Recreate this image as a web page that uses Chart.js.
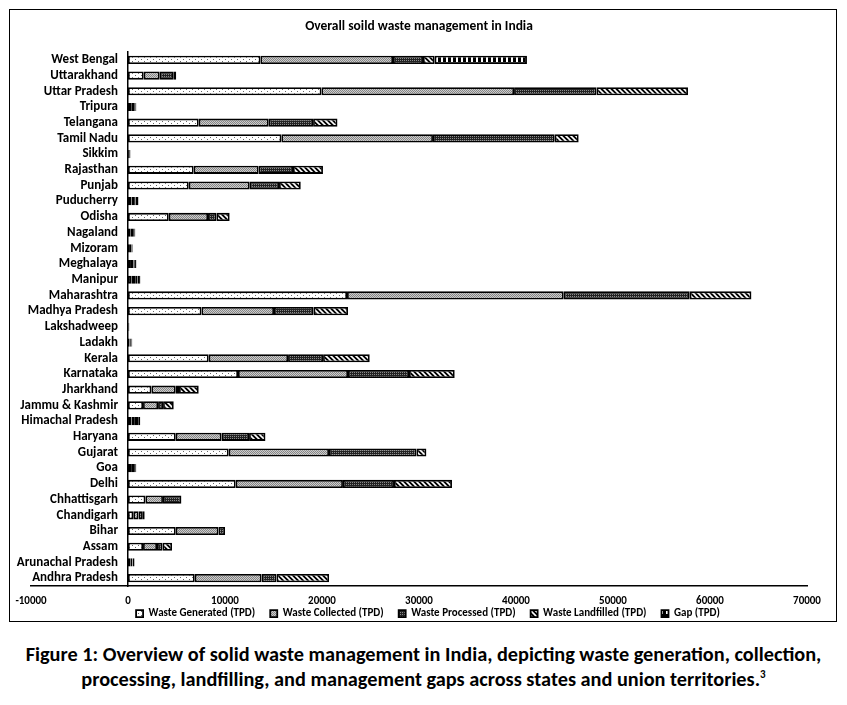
<!DOCTYPE html>
<html>
<head>
<meta charset="utf-8">
<script src="https://cdn.jsdelivr.net/npm/chart.js@4.4.1/dist/chart.umd.min.js"></script>
<style>
  html, body { margin: 0; padding: 0; background: #fff; }
  body { width: 847px; height: 705px; position: relative; overflow: hidden; font-family: Carlito, Lato, sans-serif; }
  #frame { position: absolute; left: 9px; top: 9px; width: 826px; height: 611px; border: 1.5px solid #000; }
  #wrap { position: absolute; left: 0; top: 0; width: 847px; height: 658px; }
  #caption { position: absolute; left: 0; top: 642px; width: 847px; text-align: center; font-weight: bold; font-size: 20.3px; line-height: 25px; color: #000; }
  #caption sup { font-size: 11px; line-height: 0; vertical-align: 8px; }
</style>
</head>
<body>
<div id="frame"></div>
<div id="caption">Figure 1: Overview of solid waste management in India, depicting waste generation, collection,<br>processing, landfilling, and management gaps across states and union territories.<sup>3</sup></div>
<div id="wrap"><canvas id="c" width="847" height="658"></canvas></div>
<script>
const chartTitle = 'Overall soild waste management in India';
const seriesNames = ['Waste Generated (TPD)', 'Waste Collected (TPD)', 'Waste Processed (TPD)', 'Waste Landfilled (TPD)', 'Gap (TPD)'];
const categories = ['Andhra Pradesh','Arunachal Pradesh','Assam','Bihar','Chandigarh','Chhattisgarh','Delhi','Goa','Gujarat','Haryana','Himachal Pradesh','Jammu & Kashmir','Jharkhand','Karnataka','Kerala','Ladakh','Lakshadweep','Madhya Pradesh','Maharashtra','Manipur','Meghalaya','Mizoram','Nagaland','Odisha','Puducherry','Punjab','Rajasthan','Sikkim','Tamil Nadu','Telangana','Tripura','Uttar Pradesh','Uttarakhand','West Bengal'];
const generated  = [6880,240,1550,4920,540,1790,11100,320,10380,4920,360,1550,2410,11340,8320,150,50,7570,22580,380,300,200,280,4200,360,6260,6770,90,15810,7290,330,19940,1620,13650];
const collected  = [6880,220,1440,4400,540,1815,11060,310,10340,4710,350,1550,2510,11340,8180,140,45,7480,22340,360,260,170,250,4050,350,6290,6700,90,15630,7220,310,19860,1650,13670];
const processed  = [1550,40,560,690,450,1900,5260,170,9010,2850,340,515,340,6290,3610,80,40,4090,12990,250,140,60,120,860,60,3020,3540,60,12550,4570,150,8490,1450,3090];
const landfilled = [5420,170,990,0,190,0,5980,50,1030,1690,200,1100,2030,4710,4810,60,0,3540,6360,240,120,60,80,1370,300,2240,3090,30,2470,2515,50,9440,250,1210];
const gap        = [0,20,0,0,0,0,0,15,0,0,25,0,0,0,0,20,5,0,0,45,45,25,30,0,30,0,0,10,0,0,30,0,0,9510];
const xMin = -10000, xMax = 70000, xStep = 10000;

function makePattern(w, h, draw) {
  const c = document.createElement('canvas');
  c.width = w; c.height = h;
  const g = c.getContext('2d');
  draw(g, w, h);
  return g.createPattern(c, 'repeat');
}
const patGenerated = makePattern(6, 4, (g, w, h) => {
  g.fillStyle = '#fff'; g.fillRect(0, 0, w, h);
  g.fillStyle = '#666'; g.fillRect(0, 1, 1, 1); g.fillRect(3, 3, 1, 1);
});
const patCollected = makePattern(2, 2, (g, w, h) => {
  g.fillStyle = '#cccccc'; g.fillRect(0, 0, w, h);
  g.fillStyle = '#858585'; g.fillRect(0, 0, 1, 1); g.fillRect(1, 1, 1, 1);
});
const patProcessed = makePattern(2, 2, (g, w, h) => {
  g.fillStyle = '#222'; g.fillRect(0, 0, w, h);
  g.fillStyle = '#8a8a8a'; g.fillRect(0, 0, 1, 1);
});
const patLandfilled = makePattern(5, 5, (g, w, h) => {
  g.fillStyle = '#000'; g.fillRect(0, 0, w, h);
  g.strokeStyle = '#fff'; g.lineWidth = 1.6;
  for (let k = -1; k <= 1; k++) {
    g.beginPath(); g.moveTo(k * 5 - 1, -1); g.lineTo(k * 5 + 6, 6); g.stroke();
  }
});
const patGap = makePattern(5, 8, (g, w, h) => {
  g.fillStyle = '#000'; g.fillRect(0, 0, w, h);
  g.fillStyle = '#fff'; g.fillRect(1, 1, 2, 5);
});

const series = [generated, collected, processed, landfilled, gap];
const fills = [patGenerated, patCollected, patProcessed, patLandfilled, patGap];
const FAMILY = 'Carlito, Lato, sans-serif';
const boldFont = (size) => ({ family: FAMILY, size: size, weight: 'bold' });

// category labels drawn beside the y axis line (which sits at x = 0)
const categoryLabels = {
  id: 'categoryLabels',
  afterDraw(chart) {
    const ys = chart.scales.y, xs = chart.scales.x, ctx = chart.ctx;
    ctx.save();
    ctx.font = 'bold 13px ' + FAMILY;
    ctx.fillStyle = '#000';
    ctx.textAlign = 'right';
    ctx.textBaseline = 'middle';
    const x0 = xs.getPixelForValue(0) - 10;
    ys.ticks.forEach((t, i) => {
      ctx.fillText(chart.data.labels[t.value], x0, ys.getPixelForTick(i));
    });
    ctx.restore();
  }
};
// nudge legend up so that it tucks under the tick labels, and centre it
const legendShift = {
  id: 'legendShift',
  afterLayout(chart) {
    const lg = chart.legend;
    if (!lg) return;
    lg.top -= 24; lg.bottom -= 24;
    lg.left += 9; lg.right += 9;
  }
};

new Chart(document.getElementById('c'), {
  type: 'bar',
  data: {
    labels: categories,
    datasets: series.map((d, i) => ({
      label: seriesNames[i],
      data: d,
      backgroundColor: fills[i],
      borderColor: '#000',
      borderWidth: 1.8,
      borderSkipped: false,
      categoryPercentage: 1,
      barPercentage: 0.52
    }))
  },
  plugins: [categoryLabels, legendShift],
  options: {
    indexAxis: 'y',
    responsive: false,
    animation: false,
    layout: { padding: { left: 31, right: 40, top: 0, bottom: 4.8 } },
    scales: {
      x: {
        stacked: true, min: xMin, max: xMax,
        grid: { display: false, drawTicks: false },
        border: { color: '#000', width: 1.5 },
        ticks: { stepSize: xStep, color: '#000', font: boldFont(11), padding: 9, maxRotation: 0, autoSkip: false,
                 callback: (v) => String(v) }
      },
      y: {
        stacked: true, reverse: true,
        position: { x: 0 },
        grid: { display: false, drawTicks: false },
        border: { color: '#000', width: 1.5 },
        ticks: { display: false, autoSkip: false }
      }
    },
    plugins: {
      title: { display: true, text: chartTitle, color: '#000', font: boldFont(13.5), padding: { top: 18.9, bottom: 16.9 } },
      legend: {
        position: 'bottom',
        labels: { boxWidth: 7, boxHeight: 7, color: '#000', font: boldFont(11), padding: 15 }
      },
      tooltip: { enabled: false }
    }
  }
});
</script>
</body>
</html>
